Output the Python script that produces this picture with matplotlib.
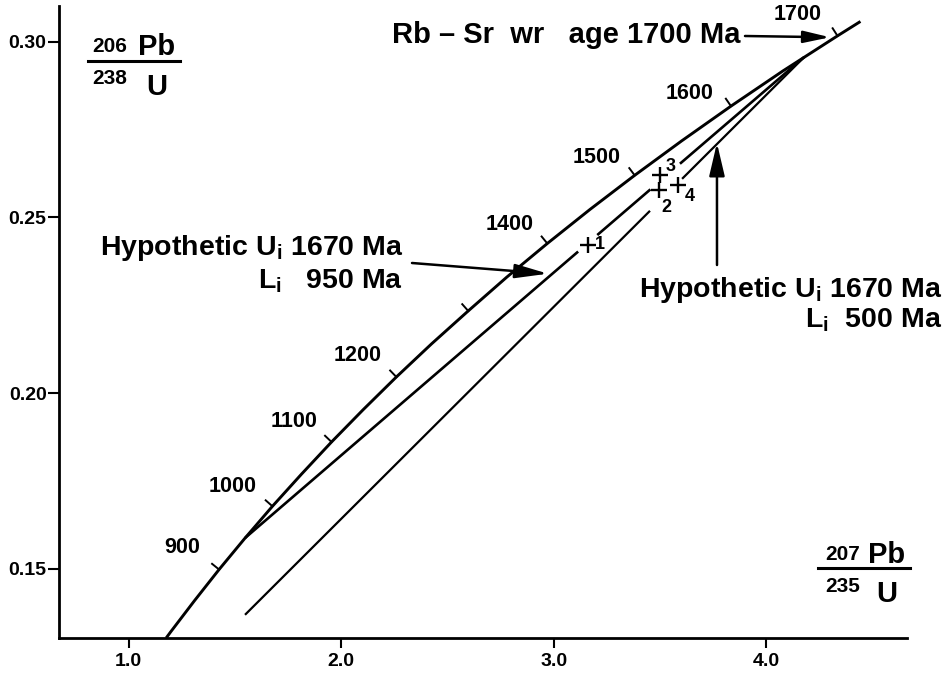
import numpy as np
import matplotlib
matplotlib.use("Agg")
import matplotlib.pyplot as plt
from matplotlib.lines import Line2D

# ---------------- data ----------------
# Concordia curve (age in Ma, 207Pb/235U, 206Pb/238U)
conc_age = [790, 800, 850, 900, 950, 1000, 1050, 1100, 1150, 1200, 1250, 1300,
            1350, 1400, 1450, 1500, 1550, 1600, 1650, 1700, 1720]
conc_x = [1.177, 1.199, 1.310, 1.426, 1.549, 1.677, 1.813, 1.955, 2.104, 2.260,
          2.425, 2.598, 2.779, 2.970, 3.171, 3.381, 3.602, 3.834, 4.078, 4.335, 4.443]
conc_y = [0.1303, 0.1321, 0.1409, 0.1498, 0.1588, 0.1678, 0.1769, 0.1861, 0.1953,
          0.2046, 0.2140, 0.2234, 0.2330, 0.2426, 0.2523, 0.2620, 0.2718, 0.2817,
          0.2917, 0.3017, 0.3058]
tick_ages = [900, 1000, 1100, 1200, 1300, 1400, 1500, 1600, 1700]
label_ages = [900, 1000, 1100, 1200, 1400, 1500, 1600, 1700]

# Discordia Ui 1670 Ma / Li 950 Ma (drawn with gaps at the data points)
disc1_seg_x = [[1.549, 3.115], [3.205, 3.455], [3.594, 4.179]]
disc1_seg_y = [[0.1588, 0.2403], [0.2450, 0.2580], [0.2653, 0.2957]]
# Discordia Ui 1670 Ma / Li 500 Ma
disc2_seg_x = [[1.548, 3.453], [3.604, 4.179]]
disc2_seg_y = [[0.1369, 0.2519], [0.2610, 0.2957]]

# Analysed fractions
pt_names = ["1", "2", "3", "4"]
pt_x = [3.161, 3.495, 3.500, 3.585]
pt_y = [0.2422, 0.2579, 0.2621, 0.2593]

xtick_vals = [1.0, 2.0, 3.0, 4.0]
xtick_labels = ["1.0", "2.0", "3.0", "4.0"]
ytick_vals = [0.15, 0.20, 0.25, 0.30]
ytick_labels = ["0.15", "0.20", "0.25", "0.30"]

# ---------------- styling ----------------
plt.rcParams['font.family'] = ['Liberation Sans', 'DejaVu Sans']
plt.rcParams['font.weight'] = 'bold'
plt.rcParams['mathtext.fontset'] = 'custom'
plt.rcParams['mathtext.rm'] = 'Liberation Sans:bold'
plt.rcParams['mathtext.bf'] = 'Liberation Sans:bold'

W, H = 951, 675
fig = plt.figure(figsize=(W / 100, H / 100), dpi=100)
fig.patch.set_facecolor('white')


def fp(x, y):
    return (x / W, 1 - y / H)


ax = fig.add_axes([59 / W, 1 - 638 / H, (907 - 59) / W, (638 - 6) / H])
ax.set_xlim(0.673, 4.662)
ax.set_ylim(0.1303, 0.3102)
for s in ['top', 'right']:
    ax.spines[s].set_visible(False)
for s in ['left', 'bottom']:
    ax.spines[s].set_linewidth(2.0)
ax.set_xticks(xtick_vals)
ax.set_xticklabels(xtick_labels)
ax.set_yticks(ytick_vals)
ax.set_yticklabels(ytick_labels)
ax.tick_params(axis='x', direction='out', length=7, width=1.5, pad=4, labelsize=14)
ax.tick_params(axis='y', direction='out', length=8, width=1.5, pad=1, labelsize=14)
for lab in ax.get_xticklabels() + ax.get_yticklabels():
    lab.set_fontweight('bold')

# concordia
ax.plot(conc_x, conc_y, color='black', lw=2.1, solid_capstyle='butt', clip_on=False)

# discordia lines
for xs, ys in zip(disc1_seg_x, disc1_seg_y):
    ax.plot(xs, ys, color='black', lw=1.9, solid_capstyle='butt')
for xs, ys in zip(disc2_seg_x, disc2_seg_y):
    ax.plot(xs, ys, color='black', lw=1.6, solid_capstyle='butt')

# age ticks on concordia (perpendicular, toward upper-left)
trans = ax.transData
inv = trans.inverted()
tick_len = 9.0
for age in tick_ages:
    i = conc_age.index(age)
    p = trans.transform((conc_x[i], conc_y[i]))
    p0 = trans.transform((conc_x[i - 1], conc_y[i - 1]))
    p1 = trans.transform((conc_x[i + 1], conc_y[i + 1]))
    t = p1 - p0
    t = t / np.hypot(*t)
    n = np.array([-t[1], t[0]])
    q = p + n * tick_len
    a = inv.transform(p)
    b = inv.transform(q)
    ax.add_line(Line2D([a[0], b[0]], [a[1], b[1]], color='black', lw=1.4))

label_off = {900: (-37, 22), 1000: (-40, 20), 1100: (-37, 20), 1200: (-39, 21),
             1400: (-38, 19), 1500: (-38, 18), 1600: (-41, 13), 1700: (-40, 21)}
for age in label_ages:
    i = conc_age.index(age)
    dx, dy = label_off[age]
    ax.annotate(str(age), xy=(conc_x[i], conc_y[i]), xytext=(dx, dy),
                textcoords='offset pixels', ha='center', va='center',
                fontsize=15.5, fontweight='bold')

# data points
ax.plot(pt_x, pt_y, linestyle='none', marker='+', markersize=11, mew=1.7, color='black')
pt_off = {"1": (12, 0), "2": (7, -18), "3": (11, 8), "4": (12, -12)}
for name, x, y in zip(pt_names, pt_x, pt_y):
    dx, dy = pt_off[name]
    ax.annotate(name, xy=(x, y), xytext=(dx, dy), textcoords='offset pixels',
                ha='center', va='center', fontsize=13, fontweight='bold')

# ---------------- annotations ----------------
fig.text(*fp(392, 43), "Rb – Sr  wr   age 1700 Ma", ha='left', va='baseline',
         fontsize=21, fontweight='bold')
ax.annotate("", xy=(4.30, 0.3013), xycoords='data', xytext=fp(745, 36),
            textcoords='figure fraction',
            arrowprops=dict(arrowstyle='-|>,head_length=1.6,head_width=0.36',
                            lw=1.8, color='black', shrinkA=0, shrinkB=0))

fig.text(*fp(403, 255), r"Hypothetic U$_\mathregular{i}$ 1670 Ma", ha='right',
         va='baseline', fontsize=20.5, fontweight='bold')
fig.text(*fp(403, 288), r"L$_\mathregular{i}$   950 Ma", ha='right',
         va='baseline', fontsize=20.5, fontweight='bold')
ax.annotate("", xy=(2.973, 0.2340), xycoords='data', xytext=fp(412, 263),
            textcoords='figure fraction',
            arrowprops=dict(arrowstyle='-|>,head_length=2.0,head_width=0.43',
                            lw=1.8, color='black', shrinkA=0, shrinkB=0))

fig.text(*fp(942, 297), r"Hypothetic U$_\mathregular{i}$ 1670 Ma", ha='right',
         va='baseline', fontsize=20.5, fontweight='bold')
fig.text(*fp(942, 327), r"L$_\mathregular{i}$  500 Ma", ha='right',
         va='baseline', fontsize=20.5, fontweight='bold')
ax.annotate("", xy=(3.768, 0.2712), xycoords='data', xytext=fp(717, 265),
            textcoords='figure fraction',
            arrowprops=dict(arrowstyle='-|>,head_length=2.0,head_width=0.47',
                            lw=1.8, color='black', shrinkA=0, shrinkB=0))


# axis labels as isotope ratios
def ratio_label(sup_top, el_top, sup_bot, el_bot, cx_sup, cx_el, y_top, y_bar, y_bot, x0, x1):
    fig.text(*fp(cx_sup, y_top - 9), sup_top, ha='center', va='center', fontsize=15, fontweight='bold')
    fig.text(*fp(cx_el, y_top), el_top, ha='center', va='baseline', fontsize=21, fontweight='bold')
    fig.add_artist(Line2D([x0 / W, x1 / W], [1 - y_bar / H, 1 - y_bar / H],
                          transform=fig.transFigure, color='black', lw=2.2))
    fig.text(*fp(cx_sup, y_bot - 16), sup_bot, ha='center', va='center', fontsize=15, fontweight='bold')
    fig.text(*fp(cx_el, y_bot), el_bot, ha='center', va='baseline', fontsize=21, fontweight='bold')


ratio_label("206", "Pb", "238", "U", 110, 157, 55, 61, 95, 88, 180)
ratio_label("207", "Pb", "235", "U", 843, 887, 563, 568, 602, 818, 910)

fig.savefig("out.png", dpi=100, facecolor='white')
